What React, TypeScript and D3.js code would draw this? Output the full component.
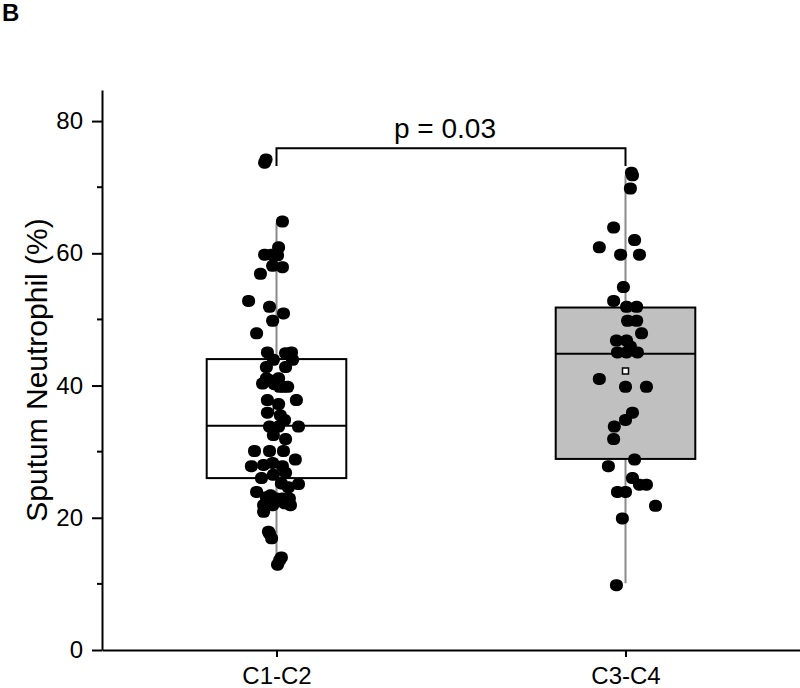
import { useEffect, useRef } from "react";
import * as d3 from "d3";

// categories on the x axis
const categories = ["C1-C2", "C3-C4"];

// y axis ticks
const yMajorTicks = [0, 20, 40, 60, 80];
const yMinorTicks = [10, 30, 50, 70];

// box statistics per group: [lower whisker, Q1, median, Q3, upper whisker]
const boxC1C2 = [14, 26, 33.9, 44, 64.6];
const boxC3C4 = [10.1, 28.9, 44.8, 51.8, 71.8];
const groupMeans = [36.3, 42.2];
const boxFills = ["#ffffff", "#c0c0c0"];

// individual points: [sputum neutrophil %, jitter in category units]
const pointsC1C2 = [
    [73.7, -0.034], [74.2, -0.03], [64.8, 0.017], [60.9, 0.006], [59.8, -0.034], [59.8, -0.014],
    [59.7, 0.003], [58.1, -0.011], [57.9, 0.017], [56.9, -0.046], [52.8, -0.08],
    [51.9, -0.02], [50.9, 0.02], [49.8, -0.011], [47.9, -0.057], [45.0, -0.026],
    [44.9, 0.026], [45.0, 0.043], [43.9, -0.009], [43.9, 0.046], [42.8, -0.029],
    [42.8, 0.026], [41.1, -0.029], [41.1, 0.006], [40.3, -0.04], [40.8, -0.02],
    [39.8, 0.009], [39.8, 0.032], [39.8, 0.02], [40.2, -0.006], [37.8, -0.026], [37.2, 0.006],
    [37.8, 0.057], [35.9, -0.026], [35.5, 0.011], [34.8, 0.023], [33.8, -0.02],
    [33.8, 0.006], [33.8, 0.063], [31.9, 0.026], [32.5, -0.009], [30.1, -0.063], [30.1, -0.02],
    [30.1, 0.02], [28.8, 0.054], [27.8, -0.072], [28.0, -0.037], [27.8, 0.017], [28.3, -0.011],
    [26.5, -0.009], [26.8, 0.026], [26.0, -0.043], [25.2, 0.014], [25.1, 0.063], [24.6, 0.034],
    [23.9, -0.057], [23.1, -0.029], [22.9, 0], [22.9, 0.037], [22.9, 0.017], [23.4, -0.017],
    [21.9, -0.037], [21.9, -0.011], [21.9, 0.04], [20.9, -0.037], [22.2, 0.023], [17.9, -0.023],
    [16.9, -0.014], [17.6, -0.02], [14.0, 0.014], [13.6, 0.009], [12.9, 0.003],
];

const pointsC3C4 = [
    [71.8, 0.02], [72.2, 0.017], [69.8, 0.014], [63.9, -0.034], [62.0, 0.026], [60.9, -0.075],
    [59.8, -0.014], [59.8, 0.04], [54.9, -0.006], [52.8, -0.034], [51.9, 0.003],
    [51.9, 0.032], [49.8, 0.006], [49.8, 0.032], [47.9, 0.046], [46.8, -0.026],
    [46.8, 0.003], [45.9, 0.014], [45.0, -0.023], [45.0, 0.003], [45.0, 0.034],
    [41.0, -0.075], [39.8, 0], [39.8, 0.06], [35.9, 0.02], [34.8, 0],
    [33.8, -0.032], [31.9, -0.034], [28.8, 0.026], [27.8, -0.049], [26.0, 0.02],
    [25.0, 0.04], [25.0, 0.06], [23.9, -0.023], [23.9, 0], [21.8, 0.086],
    [19.9, -0.009], [9.8, -0.026],
];

const pValueLabel = "p = 0.03";
const bracketLevels = [75.9, 73.2]; // bar height, drop end
const panelLabel = "B";
const yTitle = "Sputum Neutrophil (%)";

const W = 800;
const H = 688;
const FONT = "'Liberation Sans', Arial, sans-serif";

export default function App() {
    const svgRef = useRef<SVGSVGElement>(null);

    useEffect(() => {
        const svg = d3.select(svgRef.current);
        svg.selectAll("*").remove();

        const left = 102;
        const right = 800;
        const top = 90;
        const bottom = 650;

        const x = d3.scaleLinear().domain([-0.5, 1.5]).range([left, right]);
        const y = d3.scaleLinear().domain([0, 84.7]).range([bottom, top]);
        const boxW = x(0.2) - x(0);

        const boxes = [boxC1C2, boxC3C4];
        const groups = [pointsC1C2, pointsC3C4];

        // whiskers (gray, behind the boxes)
        boxes.forEach((b, i) => {
            svg.append("line")
                .attr("x1", x(i)).attr("x2", x(i))
                .attr("y1", y(b[0])).attr("y2", y(b[4]))
                .attr("stroke", "#8a8a8a")
                .attr("stroke-width", 2);
        });

        // boxes
        boxes.forEach((b, i) => {
            svg.append("rect")
                .attr("x", x(i) - boxW)
                .attr("width", boxW * 2)
                .attr("y", y(b[3]))
                .attr("height", y(b[1]) - y(b[3]))
                .attr("fill", boxFills[i])
                .attr("stroke", "#000")
                .attr("stroke-width", 2);
            svg.append("line")
                .attr("x1", x(i) - boxW).attr("x2", x(i) + boxW)
                .attr("y1", y(b[2])).attr("y2", y(b[2]))
                .attr("stroke", "#000")
                .attr("stroke-width", 2);
        });

        // mean markers
        groupMeans.forEach((m, i) => {
            svg.append("rect")
                .attr("x", x(i) - 3).attr("y", y(m) - 3)
                .attr("width", 6).attr("height", 6)
                .attr("fill", "#fff")
                .attr("stroke", "#000")
                .attr("stroke-width", 1.5);
        });

        // jittered points (slightly squarish dots like the original)
        groups.forEach((pts, i) => {
            svg.append("g")
                .selectAll("rect")
                .data(pts)
                .join("rect")
                .attr("x", d => x(i + d[1]) - 6.5)
                .attr("y", d => y(d[0]) - 6)
                .attr("width", 13)
                .attr("height", 12)
                .attr("rx", 5.5)
                .attr("ry", 5.5)
                .attr("fill", "#000");
        });

        // y axis
        const yAxis = svg.append("g")
            .attr("transform", `translate(${left},0)`)
            .call(d3.axisLeft(y).tickValues(yMajorTicks).tickSize(10).tickSizeOuter(0).tickPadding(9));
        yAxis.select(".domain").attr("stroke-width", 2);
        yAxis.selectAll(".tick line").attr("stroke-width", 2);
        yAxis.selectAll(".tick text")
            .attr("font-family", FONT)
            .attr("font-size", 24)
            .attr("fill", "#000");
        svg.append("g")
            .selectAll("line")
            .data(yMinorTicks)
            .join("line")
            .attr("x1", left - 5).attr("x2", left)
            .attr("y1", d => y(d)).attr("y2", d => y(d))
            .attr("stroke", "#000")
            .attr("stroke-width", 2);

        // x axis
        const xAxis = svg.append("g")
            .attr("transform", `translate(0,${bottom})`)
            .call(d3.axisBottom(x).tickValues([0, 1]).tickFormat(i => categories[+i]).tickSize(7).tickSizeOuter(0).tickPadding(10));
        xAxis.select(".domain").attr("stroke-width", 2);
        xAxis.selectAll(".tick line").attr("stroke-width", 2);
        xAxis.selectAll(".tick text")
            .attr("font-family", FONT)
            .attr("font-size", 24)
            .attr("fill", "#000");

        // significance bracket
        svg.append("path")
            .attr("d", `M${x(0)},${y(bracketLevels[1])}V${y(bracketLevels[0])}H${x(1)}V${y(bracketLevels[1])}`)
            .attr("fill", "none")
            .attr("stroke", "#000")
            .attr("stroke-width", 2);
        svg.append("text")
            .attr("x", (x(0) + x(1)) / 2 - 6)
            .attr("y", y(bracketLevels[0]) - 10)
            .attr("text-anchor", "middle")
            .attr("font-family", FONT)
            .attr("font-size", 28)
            .text(pValueLabel);

        // y title
        svg.append("text")
            .attr("transform", `translate(47,${(top + bottom) / 2}) rotate(-90)`)
            .attr("text-anchor", "middle")
            .attr("font-family", FONT)
            .attr("font-size", 30)
            .text(yTitle);

        // panel label
        svg.append("text")
            .attr("x", 2)
            .attr("y", 21)
            .attr("font-family", FONT)
            .attr("font-weight", "bold")
            .attr("font-size", 24)
            .text(panelLabel);
    }, []);

    return (
        <svg
            ref={svgRef}
            width={W}
            height={H}
            style={{ position: "absolute", left: 0, top: 0, background: "#fff" }}
        />
    );
}
